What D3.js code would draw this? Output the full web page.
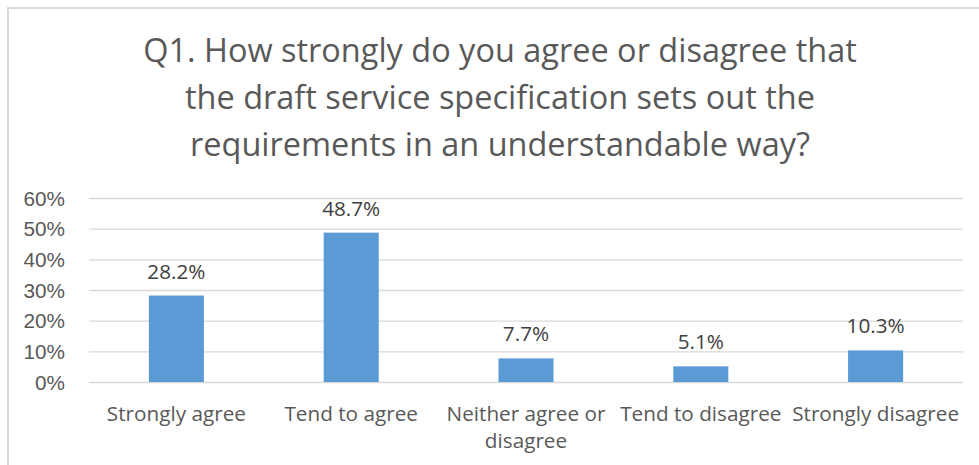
<!DOCTYPE html>
<html><head><meta charset="utf-8">
<script src="https://cdn.jsdelivr.net/npm/d3@7"></script>
<style>
html,body{margin:0;padding:0;background:#fff;}
svg{display:block;font-family:"Open Sans",sans-serif;}
</style></head>
<body>
<script>
const titleLines = ["Q1. How strongly do you agree or disagree that","the draft service specification sets out the","requirements in an understandable way?"];
const categories = ["Strongly agree","Tend to agree","Neither agree or disagree","Tend to disagree","Strongly disagree"];
const categoryLines = [["Strongly agree"],["Tend to agree"],["Neither agree or","disagree"],["Tend to disagree"],["Strongly disagree"]];
const values = [28.2, 48.7, 7.7, 5.1, 10.3];
const yTicks = [0,10,20,30,40,50,60];

const W=979,H=465;
const svg=d3.select("body").append("svg").attr("width",W).attr("height",H);
svg.append("rect").attr("x",8).attr("y",8).attr("width",W).attr("height",H).attr("fill","#fff").attr("stroke","#d9d9d9").attr("stroke-width",2);

// fit font sizes to widths measured from reference
function fit(str,target){
  const t=svg.append("text").style("font-size","20px").text(str);
  const w=t.node().getComputedTextLength(); t.remove();
  return 20*target/w;
}
const titleSize=fit(titleLines[0],714);
const labelSize=fit("Strongly disagree",167);

const plot={l:89,r:963,t:198,b:382};
const x=d3.scaleBand().domain(categories).range([plot.l,plot.r]).paddingInner(0.685).paddingOuter(0.3425);
const y=d3.scaleLinear().domain([0,60]).range([plot.b,plot.t]);

const title=svg.append("text").attr("text-anchor","middle").attr("fill","#595959").style("font-size",titleSize+"px");
titleLines.forEach((t,i)=>title.append("tspan").attr("x",500).attr("y",62+i*47).text(t));

const yAxis=svg.append("g").attr("transform",`translate(${plot.l},0)`)
  .call(d3.axisLeft(y).tickValues(yTicks).tickSize(-(plot.r-plot.l)).tickPadding(24).tickFormat(d=>d+"%"));
yAxis.select(".domain").remove();
yAxis.selectAll("line").attr("stroke","#d9d9d9").attr("stroke-width",1.3);
yAxis.selectAll("text").attr("fill","#595959").style("font-size",labelSize+"px").attr("font-family",null).attr("dy","0.35em");

svg.selectAll("rect.bar").data(values).enter().append("rect").attr("class","bar")
  .attr("x",(d,i)=>x(categories[i])).attr("width",x.bandwidth())
  .attr("y",d=>y(d)).attr("height",d=>y(0)-y(d)).attr("fill","#5b9bd5");

svg.selectAll("text.lbl").data(values).enter().append("text").attr("class","lbl")
  .attr("x",(d,i)=>x(categories[i])+x.bandwidth()/2).attr("y",d=>y(d)-17)
  .attr("text-anchor","middle").attr("fill","#404040").style("font-size",labelSize+"px")
  .text(d=>d.toFixed(1)+"%");

const xl=svg.append("g");
categoryLines.forEach((lines,i)=>{
  const t=xl.append("text").attr("text-anchor","middle").attr("fill","#595959").style("font-size",labelSize+"px");
  lines.forEach((l,j)=>t.append("tspan").attr("x",x(categories[i])+x.bandwidth()/2).attr("y",421+j*27).text(l));
});
</script>
</body></html>
